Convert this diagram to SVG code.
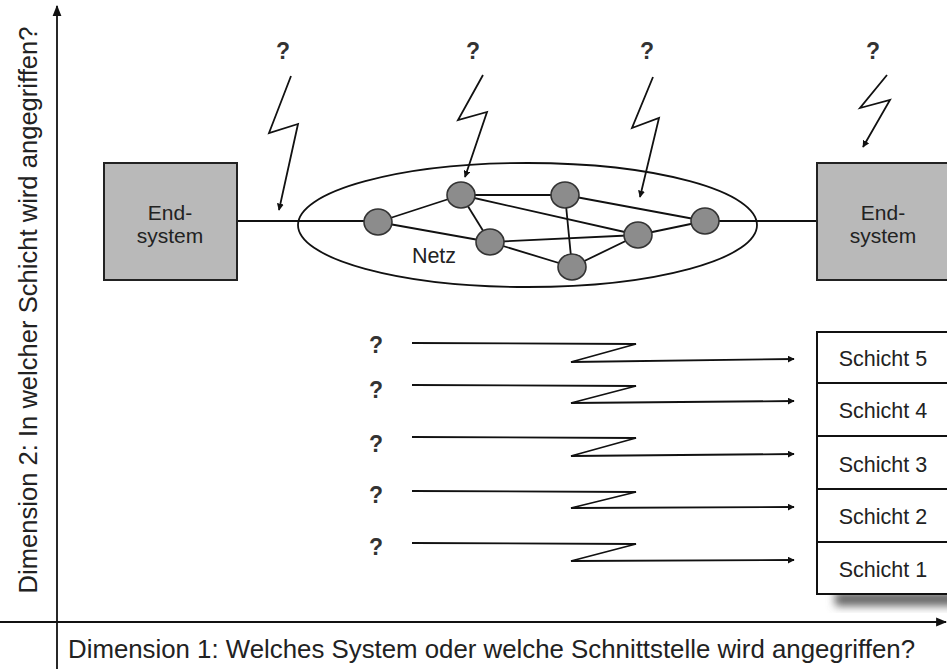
<svg xmlns="http://www.w3.org/2000/svg" width="947" height="669" viewBox="0 0 947 669">
<style>
.t{font-family:"Liberation Sans",Arial,sans-serif;fill:#222}
.q{font-family:"Liberation Sans",Arial,sans-serif;font-weight:bold;font-size:23px;fill:#333;text-anchor:middle}
.ln{stroke:#111;stroke-width:1.8;fill:none}
.box{fill:#b9b9b9;stroke:#222;stroke-width:2}
.node{fill:#8c8c8c;stroke:#333;stroke-width:1.6}
.lay{fill:#fff;stroke:#111;stroke-width:2}
</style>
<defs>
<marker id="ah" viewBox="0 0 10 10" refX="9" refY="5" markerWidth="7" markerHeight="7" orient="auto" markerUnits="userSpaceOnUse">
<path d="M0,0 L10,5 L0,10 z" fill="#111"/>
</marker>
<marker id="ah2" viewBox="0 0 10 10" refX="9" refY="5" markerWidth="11" markerHeight="11" orient="auto" markerUnits="userSpaceOnUse">
<path d="M0,1 L10,5 L0,9 z" fill="#111"/>
</marker>
<filter id="sh" x="-20%" y="-50%" width="140%" height="200%"><feGaussianBlur stdDeviation="4"/></filter>
</defs>
<rect width="947" height="669" fill="#fff"/>

<g id="axes">
<line class="ln" x1="57" y1="669" x2="57" y2="6" marker-end="url(#ah2)"/>
<line class="ln" x1="0" y1="622" x2="946" y2="622" marker-end="url(#ah2)"/>
<text class="t" font-size="25.5" transform="translate(37,310) rotate(-90)" text-anchor="middle" textLength="567" lengthAdjust="spacingAndGlyphs">Dimension 2: In welcher Schicht wird angegriffen?</text>
<text class="t" font-size="25.5" x="68" y="658" textLength="847" lengthAdjust="spacingAndGlyphs">Dimension 1: Welches System oder welche Schnittstelle wird angegriffen?</text>
</g>

<g id="connectors">
<line class="ln" x1="237" y1="221" x2="378" y2="221"/>
<line class="ln" x1="705" y1="221" x2="817" y2="221"/>
<line class="ln" x1="378" y1="222" x2="461" y2="195"/>
<line class="ln" x1="378" y1="222" x2="490" y2="242"/>
<line class="ln" x1="461" y1="195" x2="490" y2="242"/>
<line class="ln" x1="461" y1="195" x2="565" y2="195"/>
<line class="ln" x1="461" y1="195" x2="638" y2="235"/>
<line class="ln" x1="490" y1="242" x2="638" y2="235"/>
<line class="ln" x1="490" y1="242" x2="572" y2="267"/>
<line class="ln" x1="565" y1="195" x2="572" y2="267"/>
<line class="ln" x1="565" y1="195" x2="705" y2="221"/>
<line class="ln" x1="638" y1="235" x2="572" y2="267"/>
<line class="ln" x1="638" y1="235" x2="705" y2="221"/>
<!-- lightning bolts -->
<polyline class="ln" points="291,76 269,133 298,124 279,210" marker-end="url(#ah)"/>
<polyline class="ln" points="483,75 458,120 487,112 465,177" marker-end="url(#ah)"/>
<polyline class="ln" points="653,77 632,128 659,118 640,197" marker-end="url(#ah)"/>
<polyline class="ln" points="887,75 860,108 890,100 863,147" marker-end="url(#ah)"/>
<!-- layer attacks -->
<polyline class="ln" points="412,343 636,344 571,362 794,359" marker-end="url(#ah)"/>
<polyline class="ln" points="412,385 636,386 571,403 794,401" marker-end="url(#ah)"/>
<polyline class="ln" points="412,437 636,438 571,456 794,454" marker-end="url(#ah)"/>
<polyline class="ln" points="412,491 636,492 571,508 794,507" marker-end="url(#ah)"/>
<polyline class="ln" points="412,543 636,544 571,561 794,560" marker-end="url(#ah)"/>
</g>

<g id="netz">
<ellipse class="ln" cx="527.5" cy="225" rx="229.5" ry="62"/>
<text class="t" font-size="21.5" x="434" y="263" text-anchor="middle">Netz</text>
</g>
<g id="n1"><ellipse class="node" cx="378" cy="222" rx="14" ry="13"/></g>
<g id="n2"><ellipse class="node" cx="461" cy="195" rx="14" ry="13"/></g>
<g id="n3"><ellipse class="node" cx="490" cy="242" rx="14" ry="13"/></g>
<g id="n4"><ellipse class="node" cx="565" cy="195" rx="14" ry="13"/></g>
<g id="n5"><ellipse class="node" cx="572" cy="267" rx="14" ry="13"/></g>
<g id="n6"><ellipse class="node" cx="638" cy="235" rx="14" ry="13"/></g>
<g id="n7"><ellipse class="node" cx="705" cy="221" rx="14" ry="13"/></g>

<g id="endsystem-left">
<rect class="box" x="104" y="163" width="133" height="117"/>
<text class="t" font-size="21" x="170" y="220" text-anchor="middle" fill="#333">End-</text>
<text class="t" font-size="21" x="170" y="243" text-anchor="middle" fill="#333">system</text>
</g>
<g id="endsystem-right">
<rect class="box" x="817" y="163" width="140" height="117"/>
<text class="t" font-size="21" x="883" y="220" text-anchor="middle" fill="#333">End-</text>
<text class="t" font-size="21" x="883" y="243" text-anchor="middle" fill="#333">system</text>
</g>

<g id="questions">
<text class="q" x="283" y="59">?</text>
<text class="q" x="473" y="59">?</text>
<text class="q" x="647" y="59">?</text>
<text class="q" x="873" y="59">?</text>
<text class="q" x="376" y="353">?</text>
<text class="q" x="376" y="398">?</text>
<text class="q" x="376" y="452">?</text>
<text class="q" x="376" y="503">?</text>
<text class="q" x="376" y="555">?</text>
</g>

<g id="layers">
<rect x="835" y="592" width="125" height="14" fill="#666" filter="url(#sh)"/>
<g id="schicht5"><rect class="lay" x="817" y="332" width="140" height="51"/><text class="t" font-size="21.5" x="883" y="366" text-anchor="middle">Schicht 5</text></g>
<g id="schicht4"><rect class="lay" x="817" y="383" width="140" height="53"/><text class="t" font-size="21.5" x="883" y="418" text-anchor="middle">Schicht 4</text></g>
<g id="schicht3"><rect class="lay" x="817" y="436" width="140" height="53"/><text class="t" font-size="21.5" x="883" y="472" text-anchor="middle">Schicht 3</text></g>
<g id="schicht2"><rect class="lay" x="817" y="489" width="140" height="53"/><text class="t" font-size="21.5" x="883" y="524" text-anchor="middle">Schicht 2</text></g>
<g id="schicht1"><rect class="lay" x="817" y="542" width="140" height="52"/><text class="t" font-size="21.5" x="883" y="577" text-anchor="middle">Schicht 1</text></g>
</g>
</svg>
